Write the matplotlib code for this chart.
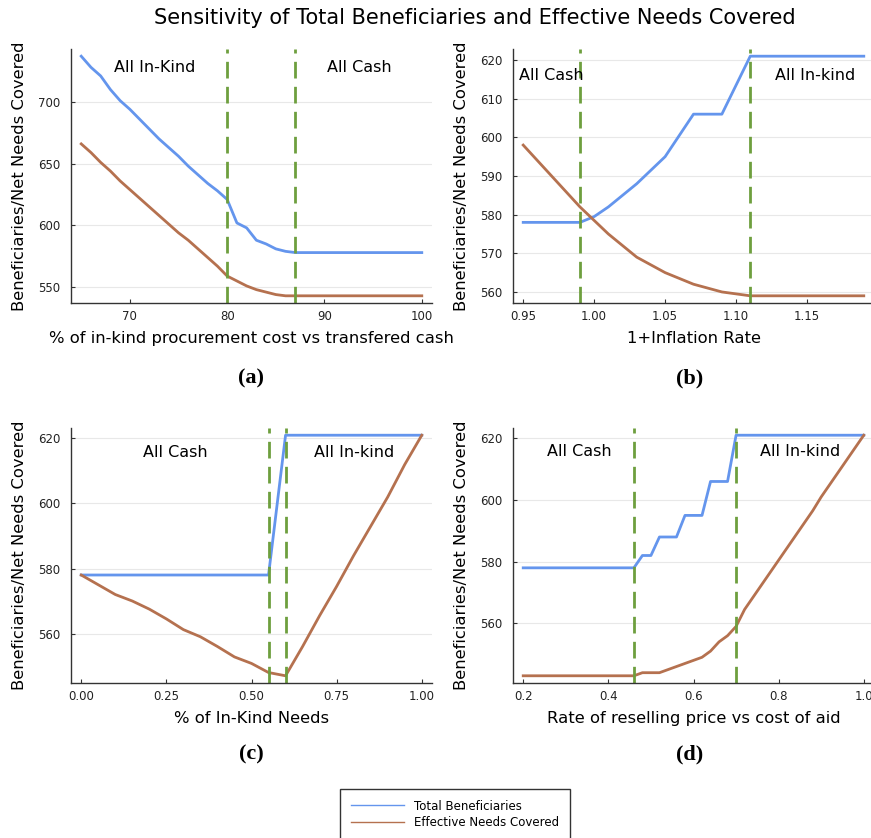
import matplotlib
matplotlib.use('Agg')
import matplotlib.pyplot as plt

# (a) % of in-kind procurement cost vs transfered cash
a_x = list(range(65, 101))
a_total = [737, 728, 721, 710, 701, 694, 686, 678, 670, 663, 656, 648, 641, 634, 628, 621,
           602, 598, 588, 585, 581, 579, 578] + [578] * 13
a_needs = [666, 659, 651, 644, 636, 629, 622, 615, 608, 601, 594, 588, 581, 574, 567, 559,
           555, 551, 548, 546, 544, 543] + [543] * 14
a_vlines = [80, 87]

# (b) 1+Inflation Rate
b_x = [round(0.95 + 0.01 * i, 2) for i in range(25)]
b_total = [578, 578, 578, 578, 578, 579.5, 582, 585, 588, 591.5, 595, 600.5, 606, 606, 606,
           613.5, 621] + [621] * 8
b_needs = [598, 594, 590, 586, 582, 578.5, 575, 572, 569, 567, 565, 563.5, 562, 561, 560,
           559.5, 559] + [559] * 8
b_vlines = [0.99, 1.11]

# (c) % of In-Kind Needs
c_x = [round(0.05 * i, 2) for i in range(21)]
c_total = [578] * 12 + [621] * 9
c_needs = [578, 575, 572, 570, 567.5, 564.5, 561.2, 559, 556, 552.8, 550.8, 548, 547,
           556, 565.5, 574.5, 584, 593, 602, 612, 621]
c_vlines = [0.55, 0.60]

# (d) Rate of reselling price vs cost of aid
d_x = [round(0.2 + 0.02 * i, 2) for i in range(41)]
d_total = [578] * 14 + [582, 582, 588, 588, 588, 595, 595, 595, 606, 606, 606, 621] + [621] * 15
d_needs = [543] * 14 + [544, 544, 544, 545, 546, 547, 548, 549, 551, 554, 556, 559, 564.5,
                        568.5, 572.5, 576.5, 580.5, 584.5, 588.5, 592.5, 596.5, 601, 605,
                        609, 613, 617, 621]
d_vlines = [0.46, 0.70]

BLUE = '#6495ED'
ORANGE = '#B5714F'
GREEN = '#6E9F3E'

W, H = 871, 838
fig = plt.figure(figsize=(W / 100, H / 100), dpi=100)


def add_ax(l, r, t, b):
    return fig.add_axes([l / W, 1 - b / H, (r - l) / W, (b - t) / H])


panels = [
    (add_ax(71, 432, 49, 303), a_x, a_total, a_needs, a_vlines,
     '% of in-kind procurement cost vs transfered cash',
     [('All In-Kind', 72.6, 727.6), ('All Cash', 93.6, 727.6)], [70, 80, 90, 100], None,
     [550, 600, 650, 700], '(a)', 251),
    (add_ax(513, 874, 49, 303), b_x, b_total, b_needs, b_vlines, '1+Inflation Rate',
     [('All Cash', 0.970, 616), ('All In-kind', 1.156, 616)],
     [0.95, 1.00, 1.05, 1.10, 1.15], '%.2f', [560, 570, 580, 590, 600, 610, 620], '(b)', 690),
    (add_ax(71, 432, 428, 683), c_x, c_total, c_needs, c_vlines, '% of In-Kind Needs',
     [('All Cash', 0.276, 615.7), ('All In-kind', 0.80, 615.7)],
     [0, 0.25, 0.5, 0.75, 1.0], '%.2f', [560, 580, 600, 620], '(c)', 251),
    (add_ax(513, 874, 428, 683), d_x, d_total, d_needs, d_vlines,
     'Rate of reselling price vs cost of aid',
     [('All Cash', 0.331, 615.7), ('All In-kind', 0.851, 615.7)],
     [0.2, 0.4, 0.6, 0.8, 1.0], '%.1f', [560, 580, 600, 620], '(d)', 690),
]

for ax, x, tot, need, vl, xlabel, notes, xt, xfmt, yt, tag, tagx in panels:
    l1, = ax.plot(x, tot, color=BLUE, lw=2, label='Total Beneficiaries')
    l2, = ax.plot(x, need, color=ORANGE, lw=2, label='Effective Needs Covered')
    for v in vl:
        ax.axvline(v, color=GREEN, lw=2, ls=(0, (6, 3)))
    for txt, tx, ty in notes:
        ax.text(tx, ty, txt, ha='center', va='center', fontsize=11.5)
    span = max(x) - min(x)
    ax.set_xlim(min(x) - 0.03 * span, max(x) + 0.03 * span)
    lo = min(min(tot), min(need))
    hi = max(max(tot), max(need))
    ax.set_ylim(lo - 0.03 * (hi - lo), hi + 0.03 * (hi - lo))
    ax.set_xticks(xt)
    if xfmt:
        ax.set_xticklabels([xfmt % v for v in xt])
    ax.set_yticks(yt)
    ax.grid(axis='y', color='#e8e8e8', lw=0.8)
    ax.set_axisbelow(True)
    for s in ['top', 'right']:
        ax.spines[s].set_visible(False)
    for s in ['left', 'bottom']:
        ax.spines[s].set_color('#333333')
        ax.spines[s].set_linewidth(1.0)
    ax.tick_params(direction='in', length=3, labelsize=8.5, colors='#333333',
                   labelcolor='#222222')
    ax.tick_params(axis='y', pad=7.5)
    ax.tick_params(axis='x', pad=5)
    ax.set_xlabel(xlabel, fontsize=11.8, labelpad=6)
    ax.set_ylabel('Beneficiaries/Net Needs Covered', fontsize=11.8, labelpad=8)
    fig.text(tagx / W, 1 - (378 if tag in ('(a)', '(b)') else 754) / H, tag,
             ha='center', va='center', fontsize=16, fontweight='bold',
             family='Liberation Serif')

fig.suptitle('Sensitivity of Total Beneficiaries and Effective Needs Covered',
             x=475 / W, y=1 - 18 / H, va='center', fontsize=15)

leg = fig.legend([l1, l2], ['Total Beneficiaries', 'Effective Needs Covered'],
                 loc='upper center', bbox_to_anchor=(455 / W, 1 - 789 / H),
                 fontsize=8.5, frameon=True, fancybox=False, handlelength=4.5,
                 handletextpad=0.85, labelspacing=0.3, borderpad=0.9, borderaxespad=0)
leg.get_frame().set_edgecolor('black')
leg.get_frame().set_linewidth(1.0)
for h in leg.get_lines():
    h.set_linewidth(1)

fig.savefig('out.png', dpi=100)
